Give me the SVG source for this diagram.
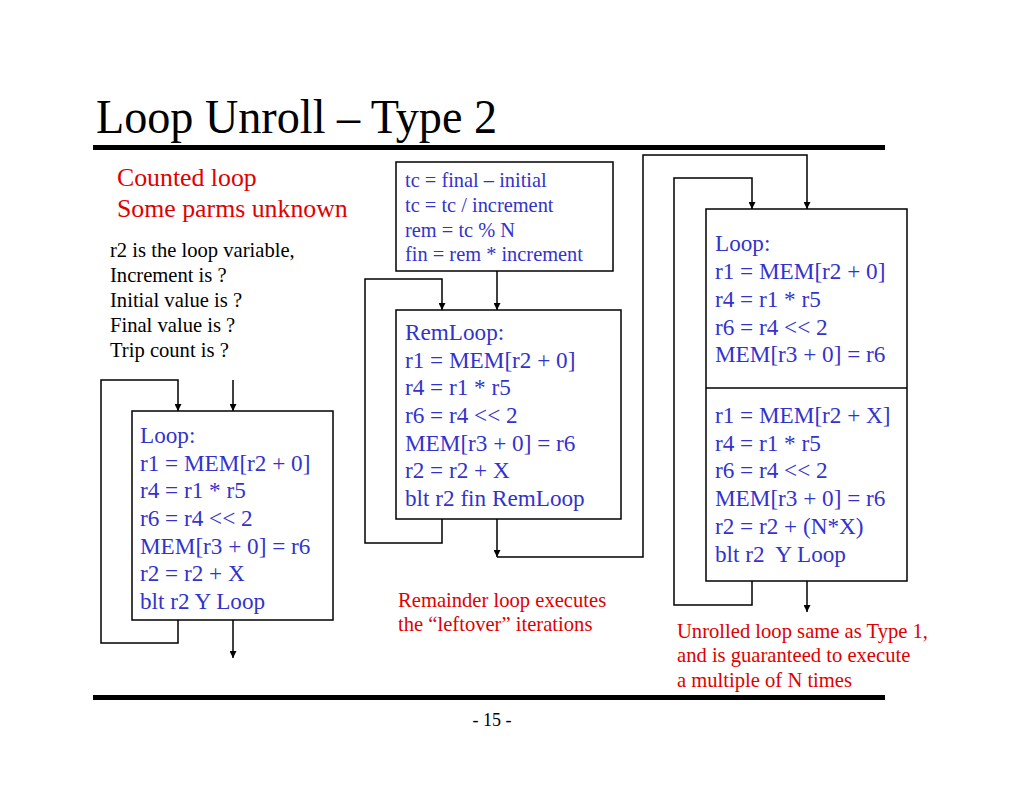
<svg xmlns="http://www.w3.org/2000/svg" width="1024" height="791" viewBox="0 0 1024 791">
<style>
text{font-family:"Liberation Serif","Times New Roman",serif}
.title{font-size:48px;fill:#000}
.red{fill:#E00000}
.blk{fill:#000;font-size:20.6px}
.code{fill:#3333CC;font-size:23.2px}
.small{fill:#3333CC;font-size:20.4px}
.note{fill:#E00000;font-size:20.6px}
.box{fill:#fff;stroke:#000;stroke-width:1.5}
.conn path{fill:none;stroke:#000;stroke-width:1.5}
</style>
<defs>
<marker id="ah" viewBox="0 0 10 10" refX="10" refY="5" markerWidth="7" markerHeight="7" markerUnits="userSpaceOnUse" orient="auto">
<path d="M0,0 L10,5 L0,10 z" fill="#000"/>
</marker>
</defs>
<rect width="1024" height="791" fill="#fff"/>
<text class="title" x="96" y="133" textLength="401" lengthAdjust="spacingAndGlyphs">Loop Unroll – Type 2</text>
<rect x="93" y="145" width="792" height="5" fill="#000"/>
<rect x="93" y="695" width="792" height="5" fill="#000"/>
<text x="492" y="726" font-size="18" text-anchor="middle" fill="#000">- 15 -</text>

<g id="intro">
<text class="red" x="117" y="186" font-size="25.8">Counted loop</text>
<text class="red" x="117" y="217" font-size="25.8">Some parms unknown</text>
<text class="blk" x="110" y="257">r2 is the loop variable,</text>
<text class="blk" x="110" y="282">Increment is ?</text>
<text class="blk" x="110" y="307">Initial value is ?</text>
<text class="blk" x="110" y="332">Final value is ?</text>
<text class="blk" x="110" y="357">Trip count is ?</text>
</g>

<g class="conn" id="connectors">
<path d="M233,380 V411" marker-end="url(#ah)"/>
<path d="M178,620 V643 H101 V380 H178 V411" marker-end="url(#ah)"/>
<path d="M233,620 V658" marker-end="url(#ah)"/>
<path d="M497,271 V310" marker-end="url(#ah)"/>
<path d="M442,519 V543 H365 V279 H442 V310" marker-end="url(#ah)"/>
<path d="M497,519 V557" marker-end="url(#ah)"/>
<path d="M497,557 H643 V155 H807 V209" marker-end="url(#ah)"/>
<path d="M752,581 V605 H674 V178 H752 V209" marker-end="url(#ah)"/>
<path d="M807,581 V612" marker-end="url(#ah)"/>
</g>

<g id="loop1">
<rect class="box" x="132" y="411" width="201" height="209"/>
<text class="code" x="140" y="443">Loop:</text>
<text class="code" x="140" y="471">r1 = MEM[r2 + 0]</text>
<text class="code" x="140" y="498">r4 = r1 * r5</text>
<text class="code" x="140" y="526">r6 = r4 &lt;&lt; 2</text>
<text class="code" x="140" y="554">MEM[r3 + 0] = r6</text>
<text class="code" x="140" y="581">r2 = r2 + X</text>
<text class="code" x="140" y="609">blt r2 Y Loop</text>
</g>

<g id="setup">
<rect class="box" x="396" y="162" width="217" height="109"/>
<text class="small" x="405" y="187">tc = final – initial</text>
<text class="small" x="405" y="212">tc = tc / increment</text>
<text class="small" x="405" y="237">rem = tc % N</text>
<text class="small" x="405" y="261">fin = rem * increment</text>
</g>

<g id="remloop">
<rect class="box" x="396" y="310" width="225" height="209"/>
<text class="code" x="405" y="340">RemLoop:</text>
<text class="code" x="405" y="368">r1 = MEM[r2 + 0]</text>
<text class="code" x="405" y="395">r4 = r1 * r5</text>
<text class="code" x="405" y="423">r6 = r4 &lt;&lt; 2</text>
<text class="code" x="405" y="451">MEM[r3 + 0] = r6</text>
<text class="code" x="405" y="478">r2 = r2 + X</text>
<text class="code" x="405" y="506">blt r2 fin RemLoop</text>
</g>

<g id="unrolled">
<rect class="box" x="706" y="209" width="201" height="372"/>
<line x1="706" y1="388" x2="907" y2="388" stroke="#000" stroke-width="1.5"/>
<text class="code" x="715" y="251">Loop:</text>
<text class="code" x="715" y="279">r1 = MEM[r2 + 0]</text>
<text class="code" x="715" y="307">r4 = r1 * r5</text>
<text class="code" x="715" y="335">r6 = r4 &lt;&lt; 2</text>
<text class="code" x="715" y="362">MEM[r3 + 0] = r6</text>
<text class="code" x="715" y="423">r1 = MEM[r2 + X]</text>
<text class="code" x="715" y="451">r4 = r1 * r5</text>
<text class="code" x="715" y="478">r6 = r4 &lt;&lt; 2</text>
<text class="code" x="715" y="506">MEM[r3 + 0] = r6</text>
<text class="code" x="715" y="534">r2 = r2 + (N*X)</text>
<text class="code" x="715" y="562" xml:space="preserve">blt r2  Y Loop</text>
</g>

<g id="notes">
<text class="note" x="398" y="607">Remainder loop executes</text>
<text class="note" x="398" y="631">the “leftover” iterations</text>
<text class="note" x="677" y="638">Unrolled loop same as Type 1,</text>
<text class="note" x="677" y="662">and is guaranteed to execute</text>
<text class="note" x="677" y="687">a multiple of N times</text>
</g>
</svg>
